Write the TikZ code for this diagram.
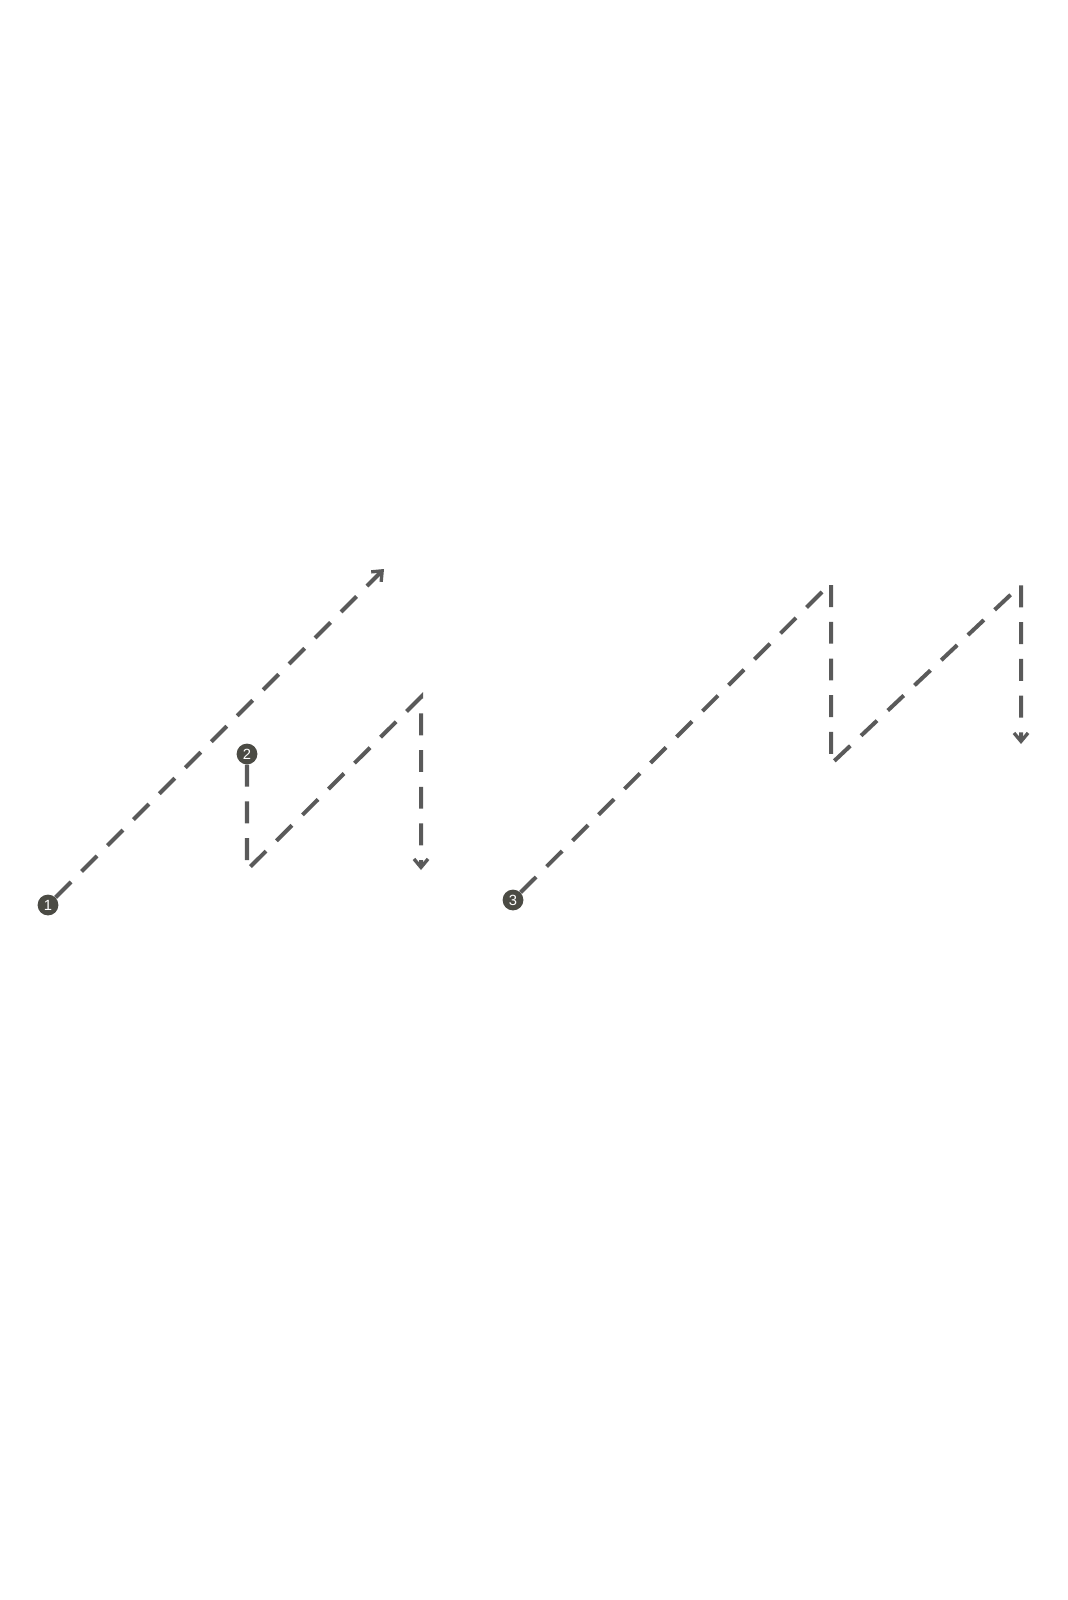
\documentclass[tikz,border=0pt]{standalone}
\usepackage{fontspec}
\newfontfamily\numfont{Liberation Sans}
\usetikzlibrary{arrows.meta}
\definecolor{linegray}{HTML}{5A5A5A}
\definecolor{dotgray}{HTML}{4B4B44}
\tikzset{
  path/.style={draw=linegray, line width=2.85pt, dash pattern=on 15.6pt off 10.5pt,
    -{Straight Barb[length=6pt,width=10pt,line width=2.4pt]}},
  numdot/.style={circle, fill=dotgray, text=white, inner sep=0pt, minimum size=0.52cm,
    font=\numfont\fontsize{10.5}{10.5}\selectfont}
}
\begin{document}
\begin{tikzpicture}[x=0.025cm,y=-0.025cm]
            
            \useasboundingbox (0,0) rectangle (1067,1600);
            
            \node[numdot] (c1) at (48,905) {1};
            \node[numdot] (c2) at (247,754) {2};
            \node[numdot] (c3) at (513,900) {3};
            
            \coordinate (e1) at (384,569);
            \coordinate (b2) at (247,870);
            \coordinate (t2) at (421,697);
            \coordinate (e2) at (421,870);
            \coordinate (t3) at (831,583);
            \coordinate (b3) at (831,764);
            \coordinate (t4) at (1021,585);
            \coordinate (e3) at (1021,744);
            
            \draw[path] (c1) -- (e1);
            \draw[path] (c2) -- (b2) -- (t2) -- (e2);
            \draw[path] (c3) -- (t3) -- (b3) -- (t4) -- (e3);
            
        \end{tikzpicture}
\end{document}
